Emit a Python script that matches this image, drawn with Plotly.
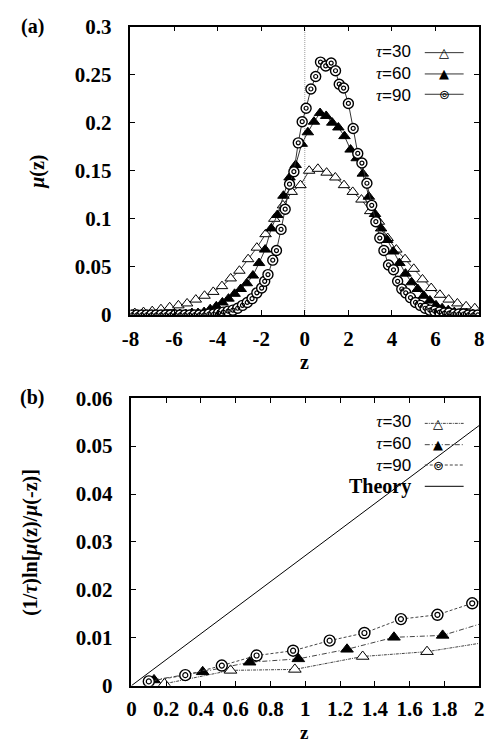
import plotly.graph_objects as go

# ---------------- Panel (a): mu(z) ----------------
z30 = [-7.8, -7.4, -7.0, -6.6, -6.2, -5.8, -5.4, -5.0, -4.6, -4.2, -3.8, -3.4, -3.0, -2.6, -2.2, -1.8,
       -1.4, -1.0, -0.6, -0.2, 0.2, 0.6, 1.0, 1.4, 1.8, 2.2, 2.6, 3.0, 3.4, 3.8, 4.2, 4.6, 5.0, 5.4,
       5.8, 6.2, 6.6, 7.0, 7.4, 7.8]
mu30 = [0.002, 0.003, 0.004, 0.006, 0.008, 0.010, 0.012, 0.016, 0.020, 0.024, 0.030, 0.038, 0.046,
        0.058, 0.070, 0.084, 0.100, 0.114, 0.128, 0.135, 0.150, 0.152, 0.148, 0.143, 0.135, 0.128,
        0.120, 0.108, 0.097, 0.080, 0.068, 0.058, 0.048, 0.037, 0.028, 0.021, 0.016, 0.012, 0.009, 0.007]

z60 = [-7.70, -7.42, -7.14, -6.86, -6.58, -6.30, -6.02, -5.74, -5.46, -5.18, -4.90, -4.62, -4.34,
       -4.06, -3.78, -3.50, -3.22, -2.94, -2.66, -2.38, -2.10, -1.82, -1.54, -1.26, -0.98, -0.70,
       -0.42, -0.14, 0.14, 0.42, 0.70, 0.98, 1.26, 1.54, 1.82, 2.10, 2.38, 2.66, 2.94, 3.22, 3.50,
       3.78, 4.06, 4.34, 4.62, 4.90, 5.18, 5.46, 5.74, 6.02, 6.30, 6.58, 6.86, 7.14, 7.42, 7.70]
mu60 = [0.000, 0.000, 0.000, 0.000, 0.000, 0.000, 0.001, 0.001, 0.001, 0.002, 0.002, 0.003, 0.006,
        0.009, 0.013, 0.017, 0.022, 0.027, 0.033, 0.041, 0.054, 0.068, 0.090, 0.104, 0.124, 0.143,
        0.156, 0.178, 0.190, 0.201, 0.210, 0.207, 0.200, 0.195, 0.186, 0.172, 0.163, 0.147, 0.123,
        0.105, 0.090, 0.078, 0.066, 0.054, 0.043, 0.034, 0.027, 0.020, 0.015, 0.010, 0.007, 0.005,
        0.003, 0.002, 0.002, 0.001]

z90 = [-7.92, -7.70, -7.48, -7.26, -7.04, -6.82, -6.60, -6.38, -6.16, -5.94, -5.72, -5.50, -5.28,
       -5.06, -4.84, -4.62, -4.40, -4.18, -3.96, -3.74, -3.52, -3.30, -3.08, -2.86, -2.64, -2.42,
       -2.20, -1.98, -1.84, -1.69, -1.47, -1.30, -1.09, -0.90, -0.70, -0.50, -0.30, -0.12, 0.06,
       0.28, 0.50, 0.72, 0.96, 1.21, 1.41, 1.58, 1.78, 2.00, 2.22, 2.43, 2.62, 2.85, 3.07, 3.26,
       3.44, 3.63, 3.84, 4.07, 4.26, 4.45, 4.63, 4.85, 5.08, 5.30, 5.52, 5.74, 5.96, 6.18, 6.40,
       6.62, 6.84, 7.06, 7.28, 7.50, 7.72, 7.94]
mu90 = [0.000, 0.000, 0.000, 0.000, 0.000, 0.000, 0.000, 0.000, 0.000, 0.000, 0.000, 0.000, 0.000,
        0.000, 0.000, 0.000, 0.001, 0.001, 0.002, 0.003, 0.004, 0.005, 0.007, 0.010, 0.013, 0.017,
        0.023, 0.028, 0.035, 0.042, 0.057, 0.067, 0.089, 0.110, 0.136, 0.149, 0.179, 0.201, 0.215,
        0.235, 0.248, 0.263, 0.259, 0.262, 0.254, 0.240, 0.236, 0.220, 0.194, 0.168, 0.158, 0.137,
        0.114, 0.097, 0.080, 0.067, 0.052, 0.047, 0.035, 0.027, 0.023, 0.018, 0.013, 0.010, 0.007,
        0.005, 0.004, 0.003, 0.002, 0.002, 0.001, 0.001, 0.001, 0.000, 0.000, 0.000]

xa_ticks = [-8, -6, -4, -2, 0, 2, 4, 6, 8]
xa_text = ["-8", "-6", "-4", "-2", "0", "2", "4", "6", "8"]
ya_ticks = [0, 0.05, 0.1, 0.15, 0.2, 0.25, 0.3]
ya_text = ["0", "0.05", "0.1", "0.15", "0.2", "0.25", "0.3"]

# ---------------- Panel (b): ratio ----------------
zb30 = [0.19, 0.57, 0.94, 1.33, 1.70, 2.08]
r30 = [0.0004, 0.0032, 0.0034, 0.0061, 0.0071, 0.0093]
zb60 = [0.13, 0.41, 0.68, 0.96, 1.24, 1.51, 1.79, 2.07]
r60 = [0.0012, 0.0029, 0.0049, 0.0056, 0.0076, 0.0101, 0.0105, 0.0136]
zb90 = [0.10, 0.31, 0.52, 0.72, 0.93, 1.14, 1.34, 1.55, 1.76, 1.96, 2.17]
r90 = [0.0009, 0.0022, 0.0042, 0.0063, 0.0073, 0.0094, 0.0110, 0.0139, 0.0148, 0.0172, 0.0190]
z_theory = [0.0, 2.0]
r_theory = [0.0, 0.0543]

xb_ticks = [0, 0.2, 0.4, 0.6, 0.8, 1, 1.2, 1.4, 1.6, 1.8, 2]
xb_text = ["0", "0.2", "0.4", "0.6", "0.8", "1", "1.2", "1.4", "1.6", "1.8", "2"]
yb_ticks = [0, 0.01, 0.02, 0.03, 0.04, 0.05, 0.06]
yb_text = ["0", "0.01", "0.02", "0.03", "0.04", "0.05", "0.06"]

legend_labels = ["τ=30", "τ=60", "τ=90"]

# ---------------- Styling ----------------
W, H = 490, 749
SERIF = "Liberation Serif"
SANS = "Liberation Sans"
FS = 21
LINE_A = "#333333"
LINE_B = "#444444"

fig = go.Figure()

# panel (a) traces
fig.add_trace(go.Scatter(x=z30, y=mu30, mode="lines+markers", xaxis="x", yaxis="y",
                         line=dict(color=LINE_A, width=1),
                         marker=dict(symbol="triangle-up", size=10, color="white",
                                     line=dict(color="black", width=1)), showlegend=False))
fig.add_trace(go.Scatter(x=z60, y=mu60, mode="lines+markers", xaxis="x", yaxis="y",
                         line=dict(color=LINE_A, width=1),
                         marker=dict(symbol="triangle-up", size=10, color="black",
                                     line=dict(color="black", width=1)), showlegend=False))
fig.add_trace(go.Scatter(x=z90, y=mu90, mode="lines+markers", xaxis="x", yaxis="y",
                         line=dict(color=LINE_A, width=1),
                         marker=dict(symbol="circle", size=10, color="white",
                                     line=dict(color="black", width=1.4)), showlegend=False))
fig.add_trace(go.Scatter(x=z90, y=mu90, mode="markers", xaxis="x", yaxis="y",
                         marker=dict(symbol="circle-open", size=4, color="black",
                                     line=dict(color="black", width=1.2)), showlegend=False))

# panel (b) traces
fig.add_trace(go.Scatter(x=z_theory, y=r_theory, mode="lines", xaxis="x2", yaxis="y2",
                         line=dict(color="black", width=1), showlegend=False))
fig.add_trace(go.Scatter(x=zb30, y=r30, mode="lines+markers", xaxis="x2", yaxis="y2",
                         line=dict(color=LINE_B, width=1, dash="3px,1px,1px,1px"),
                         marker=dict(symbol="triangle-up", size=11, color="white",
                                     line=dict(color="black", width=1)), showlegend=False))
fig.add_trace(go.Scatter(x=zb60, y=r60, mode="lines+markers", xaxis="x2", yaxis="y2",
                         line=dict(color=LINE_B, width=1, dash="5px,2px,1px,2px"),
                         marker=dict(symbol="triangle-up", size=11, color="black",
                                     line=dict(color="black", width=1)), showlegend=False))
fig.add_trace(go.Scatter(x=zb90, y=r90, mode="lines+markers", xaxis="x2", yaxis="y2",
                         line=dict(color=LINE_B, width=1, dash="3px,2px"),
                         marker=dict(symbol="circle", size=11, color="white",
                                     line=dict(color="black", width=1.4)), showlegend=False))
fig.add_trace(go.Scatter(x=zb90, y=r90, mode="markers", xaxis="x2", yaxis="y2",
                         marker=dict(symbol="circle-open", size=5, color="black",
                                     line=dict(color="black", width=1.2)), showlegend=False))

axis_common = dict(showgrid=False, zeroline=False, showline=True, linecolor="black", linewidth=1.5,
                   mirror="ticks", ticks="inside", ticklen=5, tickcolor="black", tickwidth=1,
                   tickfont=dict(family=SERIF, size=FS, color="black", weight="bold"))

fig.update_layout(
    width=W, height=H, margin=dict(l=0, r=0, t=0, b=0),
    paper_bgcolor="white", plot_bgcolor="white", showlegend=False,
    xaxis=dict(domain=[125 / W, 484 / W], range=[-8, 8], tickvals=xa_ticks, ticktext=xa_text,
               anchor="y", ticklabelstandoff=4, **axis_common),
    yaxis=dict(domain=[1 - 313 / H, 1 - 15 / H], range=[0, 0.3], tickvals=ya_ticks, ticktext=ya_text,
               anchor="x", ticklabelstandoff=13, **axis_common),
    xaxis2=dict(domain=[126 / W, 484 / W], range=[0, 2], tickvals=xb_ticks, ticktext=xb_text,
                anchor="y2", ticklabelstandoff=3, **axis_common),
    yaxis2=dict(domain=[1 - 696 / H, 1 - 399 / H], range=[0, 0.06], tickvals=yb_ticks, ticktext=yb_text,
                anchor="x2", ticklabelstandoff=13, **axis_common),
)

# dotted vertical line at z=0 in panel (a)
fig.add_shape(type="line", xref="x", yref="y domain", x0=0, x1=0, y0=0, y1=1,
              line=dict(color="#999999", width=1, dash="1px,1px"), layer="below")

def txt(s, x, y, size=FS, angle=0, xanchor="center", family=SERIF, bold=True, align="center"):
    fig.add_annotation(text=s, x=x / W, y=1 - y / H, xref="paper", yref="paper", showarrow=False,
                       xanchor=xanchor, yanchor="middle", textangle=angle, align=align,
                       font=dict(family=family, size=size, color="black",
                                 weight="bold" if bold else "normal"))

# panel labels and axis titles
txt("(a)", 24, 15, size=20)
txt("(b)", 24, 398, size=20)
txt("z", 304, 362, size=20)
txt("z", 304, 744, size=19)
txt("<i>μ</i>(z)", 30, 165, angle=-90, size=20)
txt("(1/<i>τ</i>)ln[<i>μ</i>(z)/<i>μ</i>(-z)]", 22, 548, angle=-90, size=20)

def leg_entry(label):
    tau, rest = label.split("=")
    return (f"<span style='font-family:{SERIF}'><i>{tau}</i></span>"
            f"<span style='font-family:{SANS}'>={rest}</span>")

def leg_line(y, x0=428, x1=468, dash="solid", color=LINE_A):
    fig.add_shape(type="line", xref="paper", yref="paper", x0=x0 / W, x1=x1 / W,
                  y0=1 - y / H, y1=1 - y / H, line=dict(color=color, width=1, dash=dash))

def leg_mark(glyph, x, y, size=13):
    fig.add_annotation(text=glyph, x=x / W, y=1 - y / H, xref="paper", yref="paper",
                       showarrow=False, xanchor="center", yanchor="middle",
                       font=dict(family="DejaVu Sans", size=size, color="black"))

glyphs = ["△", "▲", "⊚"]

# legend panel (a)
ya_leg = [42, 64, 85]
txt("<br>".join(leg_entry(l) for l in legend_labels), 416, 63.5, size=17,
    xanchor="right", bold=False, align="right")
for yy, g in zip(ya_leg, glyphs):
    leg_line(yy)
    leg_mark(g, 448, yy)

# legend panel (b)
yb_leg = [425, 447, 468]
dashes = ["3px,1px,1px,1px", "5px,2px,1px,2px", "3px,2px"]
entries_b = [leg_entry(l) for l in legend_labels] + [
    f"<span style='font-family:{SERIF};font-size:20px'><b>Theory</b></span>"]
txt("<br>".join(entries_b), 416, 458, size=17, xanchor="right", bold=False, align="right")
for yy, g, d in zip(yb_leg, glyphs, dashes):
    leg_line(yy, dash=d, color=LINE_B)
    leg_mark(g, 442, yy)
leg_line(490, color="black")

fig.write_html("out.html")
